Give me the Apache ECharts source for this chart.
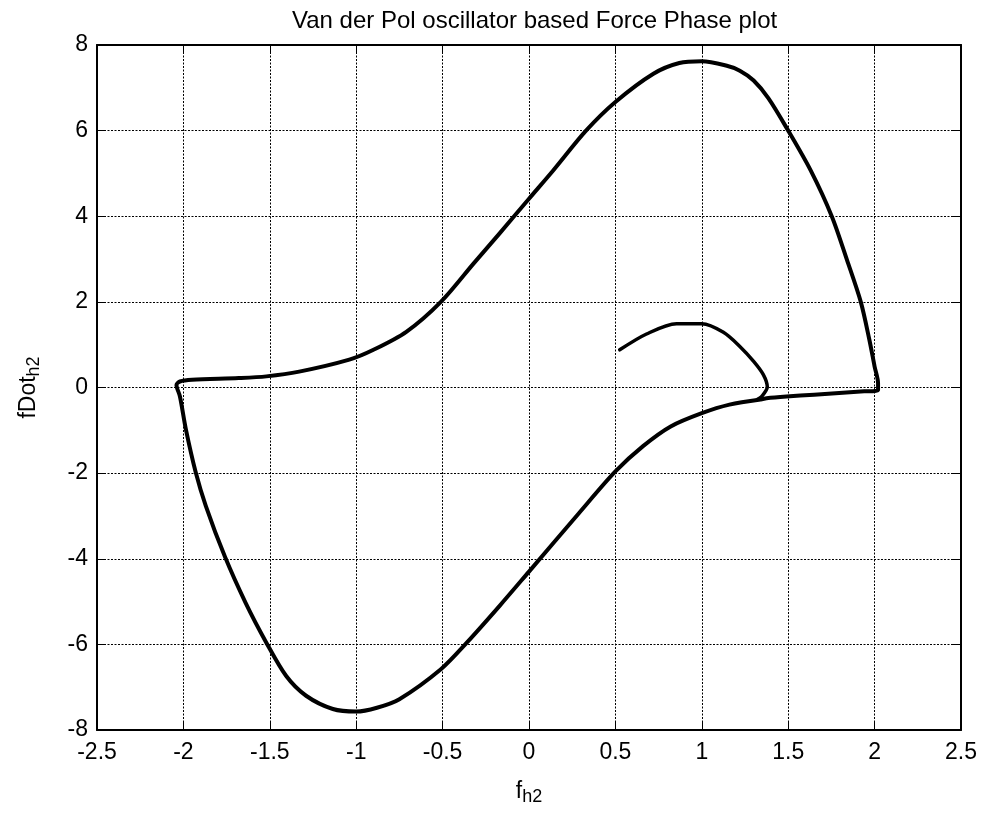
<!DOCTYPE html>
<html>
<head>
<meta charset="utf-8">
<script src="https://cdn.jsdelivr.net/npm/echarts@6/dist/echarts.min.js"></script>
<style>
html,body{margin:0;padding:0;background:#fff;}
#chart{width:987px;height:817px;}
</style>
</head>
<body>
<div id="chart"></div>
<script>
// ---- data ----
const titleText = 'Van der Pol oscillator based Force Phase plot';
const xTickValues = [-2.5, -2, -1.5, -1, -0.5, 0, 0.5, 1, 1.5, 2, 2.5];
const yTickValues = [-8, -6, -4, -2, 0, 2, 4, 6, 8];

// transient part (start -> joins the limit cycle)
const transientF    = [0.525, 0.68, 0.854, 1.0, 1.125, 1.22, 1.30, 1.356, 1.379, 1.346, 1.32];
const transientFDot = [0.88, 1.25, 1.49, 1.49, 1.29, 0.96, 0.61, 0.30, 0.01, -0.21, -0.28];

// limit cycle
const cycleF = [1.34, 1.16, 1.0, 0.82, 0.66, 0.5, 0.29, 0, -0.17, -0.36, -0.51, -0.75, -0.88, -1.0,
  -1.135, -1.29, -1.405, -1.52, -1.64, -1.76, -1.87, -1.93, -1.985, -2.02, -2.04, -2.02, -1.95, -1.68,
  -1.52, -1.33, -1.04, -0.90, -0.71, -0.51, -0.32, -0.17, 0, 0.14, 0.33, 0.5, 0.72, 0.87,
  1.0, 1.14, 1.22, 1.30, 1.385, 1.50, 1.63, 1.752, 1.84, 1.92, 1.97, 2.0, 2.02, 2.02, 1.94, 1.65, 1.49, 1.375, 1.34];
const cycleFDot = [-0.28, -0.40, -0.60, -0.91, -1.37, -1.96, -2.93, -4.30, -5.10, -5.96, -6.58, -7.28, -7.48, -7.57,
  -7.51, -7.20, -6.74, -5.96, -5.03, -3.95, -2.77, -1.96, -0.99, -0.21, 0.06, 0.14, 0.18, 0.22,
  0.26, 0.37, 0.65, 0.88, 1.30, 2.0, 2.90, 3.6, 4.41, 5.07, 6.0, 6.67, 7.33, 7.58,
  7.62, 7.52, 7.40, 7.17, 6.76, 6.0, 5.07, 4.0, 2.98, 2.0, 1.11, 0.49, 0.10, -0.06, -0.09, -0.17, -0.21, -0.25, -0.28];

const zip = (a, b) => a.map((v, i) => [v, b[i]]);

const FONT = '"Liberation Sans", Arial, Helvetica, sans-serif';
const FS = 23;
const TFS = 24;

const chart = echarts.init(document.getElementById('chart'), null, {renderer: 'canvas'});

const axisLineStyle = {show: true, onZero: false, lineStyle: {color: '#000', width: 2}};
const tickStyle = {show: true, inside: true, length: 8, lineStyle: {color: '#000', width: 1}};
const splitStyle = {show: true, lineStyle: {color: '#000', width: 1, type: [2, 1.5]}};

const richName = {
  a: {fontSize: FS, fontFamily: FONT, color: '#000', lineHeight: 26, verticalAlign: 'top'},
  b: {fontSize: 18, fontFamily: FONT, color: '#000', lineHeight: 18, verticalAlign: 'bottom', padding: [14, 0, 0, 0]}
};

chart.setOption({
  animation: false,
  backgroundColor: '#fff',
  title: {
    text: titleText,
    left: 287,
    top: 4,
    textStyle: {fontFamily: FONT, fontSize: TFS, fontWeight: 'normal', color: '#000'}
  },
  grid: {left: 97, right: 26, top: 45, bottom: 87, containLabel: false},
  xAxis: [{
    type: 'value', min: -2.5, max: 2.5, interval: 0.5, position: 'bottom',
    axisLine: axisLineStyle, axisTick: tickStyle, splitLine: splitStyle,
    axisLabel: {color: '#000', fontFamily: FONT, fontSize: FS, margin: 11,
      formatter: v => String(xTickValues.find(t => Math.abs(t - v) < 1e-9) ?? v)},
    name: '{a|f}{b|h2}', nameLocation: 'middle', nameGap: 50,
    nameTextStyle: {color: '#000', fontFamily: FONT, rich: richName}
  }, {
    type: 'value', min: -2.5, max: 2.5, interval: 0.5, position: 'top',
    axisLine: axisLineStyle, axisTick: tickStyle, splitLine: {show: false}, axisLabel: {show: false}
  }],
  yAxis: [{
    type: 'value', min: -8, max: 8, interval: 2, position: 'left',
    axisLine: axisLineStyle, axisTick: tickStyle, splitLine: splitStyle,
    axisLabel: {color: '#000', fontFamily: FONT, fontSize: FS, margin: 9,
      formatter: v => String(yTickValues.find(t => Math.abs(t - v) < 1e-9) ?? v)},
    name: '{a|fDot}{b|h2}', nameLocation: 'middle', nameGap: 54, nameRotate: 90,
    nameTextStyle: {color: '#000', fontFamily: FONT, rich: richName}
  }, {
    type: 'value', min: -8, max: 8, interval: 2, position: 'right',
    axisLine: axisLineStyle, axisTick: tickStyle, splitLine: {show: false}, axisLabel: {show: false}
  }],
  series: [{
    type: 'line', xAxisIndex: 0, yAxisIndex: 0,
    data: zip(transientF, transientFDot),
    showSymbol: false, symbol: 'none', smooth: 0.3,
    lineStyle: {color: '#000', width: 3.5, join: 'round', cap: 'round'}
  }, {
    type: 'line', xAxisIndex: 0, yAxisIndex: 0,
    data: zip(cycleF, cycleFDot),
    showSymbol: false, symbol: 'none', smooth: 0.3,
    lineStyle: {color: '#000', width: 4, join: 'round', cap: 'round'}
  }]
});
</script>
</body>
</html>
